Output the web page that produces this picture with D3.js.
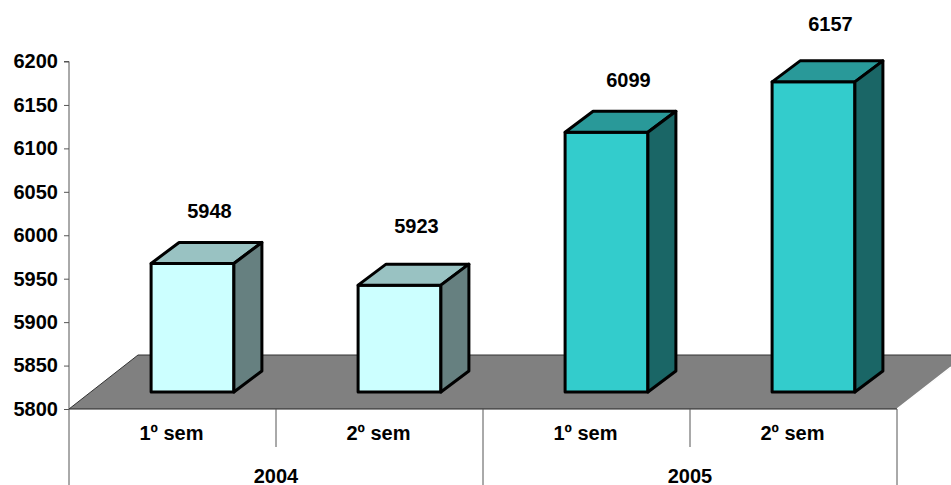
<!DOCTYPE html>
<html lang="en">
<head>
  <meta charset="UTF-8">
  <title>Semestres 2004 - 2005</title>
  <script src="https://d3js.org/d3.v7.min.js"></script>
  <style>
    html, body { margin: 0; padding: 0; background: #fff; overflow: hidden; }
    svg { display: block; }
    text { font-family: "Liberation Sans", Arial, sans-serif; font-weight: bold; font-size: 20px; fill: #000; }
  </style>
</head>
<body>
  <div id="chart"></div>
  <script>
    const semesters = ["1º sem", "2º sem", "1º sem", "2º sem"];
    const years = ["2004", "2005"];
    const values = [5948, 5923, 6099, 6157];
    const yTicks = [5800, 5850, 5900, 5950, 6000, 6050, 6100, 6150, 6200];

    const w = 951;
    const h = 485;
    const axisGray = "#555";

    // office-style 3d: floor and bar depth offsets
    const floorDx = 69, floorDy = -54;
    const barDx = 28, barDy = -21;
    const barLift = -17;
    const labelShift = [[17, -52], [17, -59], [22, -52], [17, -58]];

    const palettes = [
      { front: "#ccffff", top: "#99c2c2", side: "#668080" },
      { front: "#ccffff", top: "#99c2c2", side: "#668080" },
      { front: "#33cccc", top: "#299999", side: "#1a6666" },
      { front: "#33cccc", top: "#299999", side: "#1a6666" }
    ];

    const svg = d3.select("#chart").append("svg").attr("width", w).attr("height", h);

    const xScale = d3.scaleBand().domain(d3.range(4)).range([69, 897]);
    const yearScale = d3.scaleBand().domain(years).range([69, 897]);
    const yScale = d3.scaleLinear().domain([5800, 6200]).range([409, 61.5]);
    const barWidth = xScale.bandwidth() * 0.4;
    const y0 = yScale(5800);

    // floor
    svg.append("polygon")
      .attr("points", [[69, y0], [69 + floorDx, y0 + floorDy], [w + 2, y0 + floorDy], [w + 2, y0 - 43], [897, y0]].join(" "))
      .attr("fill", "#808080");
    svg.append("path")
      .attr("d", `M69 ${y0}L${69 + floorDx} ${y0 + floorDy}H${w}`)
      .attr("fill", "none").attr("stroke", "#333").attr("stroke-width", 1);
    svg.append("line")
      .attr("x1", 897).attr("y1", y0).attr("x2", w).attr("y2", y0 - 42)
      .attr("stroke", "#fff").attr("stroke-width", 1.5);

    // y axis
    const yAxis = d3.axisLeft(yScale).tickValues(yTicks).tickSize(5).tickPadding(6).tickFormat(d3.format("d"));
    const yG = svg.append("g").attr("transform", "translate(69,0)").call(yAxis);
    yG.selectAll("path, line").attr("stroke", axisGray);
    yG.selectAll("text").attr("font-size", null).attr("font-family", null);
    yG.select(".domain").attr("d", `M-5 ${yScale(6200)}H0V${y0}`);

    // x axis: baseline plus two rows of dividers
    svg.append("line").attr("x1", 69).attr("x2", 897).attr("y1", y0).attr("y2", y0).attr("stroke", "#222");
    svg.selectAll(".div-sem").data(d3.range(4)).enter().append("line")
      .attr("class", "div-sem")
      .attr("x1", d => xScale(d) + xScale.bandwidth())
      .attr("x2", d => xScale(d) + xScale.bandwidth())
      .attr("y1", y0).attr("y2", d => d === 1 || d === 3 ? h : 447)
      .attr("stroke", axisGray);
    svg.append("line").attr("x1", 69).attr("x2", 69).attr("y1", y0).attr("y2", h).attr("stroke", axisGray);

    svg.selectAll(".sem-label").data(semesters).enter().append("text")
      .attr("class", "sem-label")
      .attr("text-anchor", "middle")
      .attr("x", (d, i) => xScale(i) + xScale.bandwidth() / 2 - 1)
      .attr("y", 440)
      .text(d => d);

    svg.selectAll(".year-label").data(years).enter().append("text")
      .attr("class", "year-label")
      .attr("text-anchor", "middle")
      .attr("x", d => yearScale(d) + yearScale.bandwidth() / 2)
      .attr("y", 483)
      .text(d => d);

    // bars
    const bars = svg.selectAll(".bar").data(values).enter().append("g")
      .attr("class", "bar")
      .attr("transform", (d, i) => `translate(${xScale(i) + (xScale.bandwidth() - barWidth) / 2 + 20},${barLift})`)
      .attr("stroke", "#000").attr("stroke-width", 3).attr("stroke-linejoin", "round");

    bars.append("rect")
      .attr("x", 0).attr("y", d => yScale(d))
      .attr("width", barWidth).attr("height", d => y0 - yScale(d))
      .attr("fill", (d, i) => palettes[i].front);
    bars.append("polygon")
      .attr("points", d => {
        const t = yScale(d);
        return [[0, t], [barDx, t + barDy], [barWidth + barDx, t + barDy], [barWidth, t]].join(" ");
      })
      .attr("fill", (d, i) => palettes[i].top);
    bars.append("polygon")
      .attr("points", d => {
        const t = yScale(d);
        return [[barWidth, t], [barWidth + barDx, t + barDy], [barWidth + barDx, y0 + barDy], [barWidth, y0]].join(" ");
      })
      .attr("fill", (d, i) => palettes[i].side);

    svg.selectAll(".val").data(values).enter().append("text")
      .attr("class", "val")
      .attr("text-anchor", "middle")
      .attr("x", (d, i) => xScale(i) + xScale.bandwidth() / 2 + 20 + labelShift[i][0])
      .attr("y", (d, i) => yScale(d) + barLift + labelShift[i][1] + 7)
      .text(d => d);
  </script>
</body>
</html>
